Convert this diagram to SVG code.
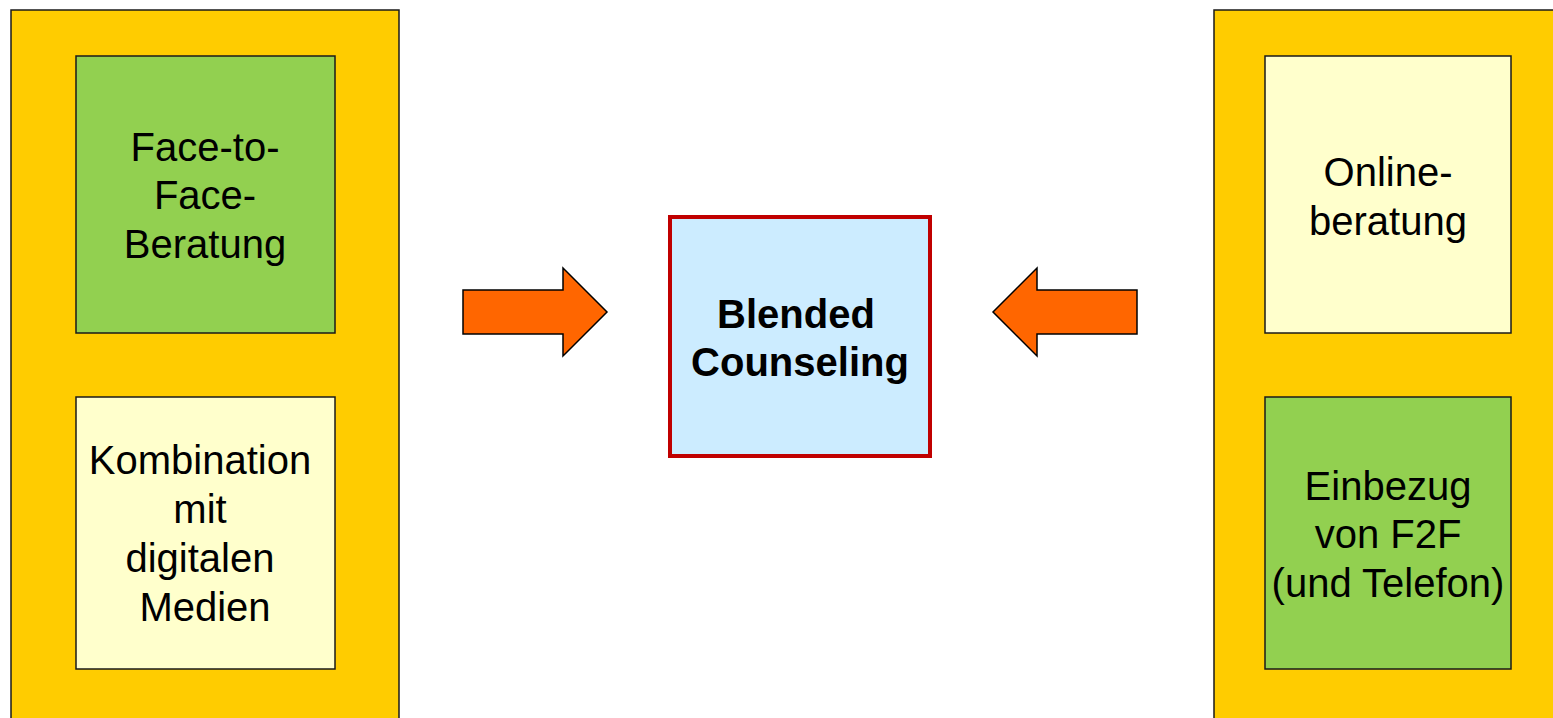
<svg xmlns="http://www.w3.org/2000/svg" width="1553" height="718" viewBox="0 0 1553 718">
<style>
.outer{fill:#FFCC00;stroke:#1a1a1a;stroke-width:1.5}
.g{fill:#92D050;stroke:#1a1a1a;stroke-width:1.5}
.y{fill:#FFFFCC;stroke:#1a1a1a;stroke-width:1.5}
.c{fill:#CCECFF;stroke:#C00000;stroke-width:4}
.arr{fill:#FF6600;stroke:#000;stroke-width:1.5;stroke-linejoin:miter}
text{font-family:"Liberation Sans",Arial,sans-serif;font-size:40px;fill:#000;text-anchor:middle}
.b{font-weight:bold}
</style>
<rect width="1553" height="718" fill="#fff"/>
<g id="left-panel">
<rect class="outer" x="11" y="10" width="388" height="720"/>
</g>
<g id="right-panel">
<rect class="outer" x="1214" y="10" width="350" height="720"/>
</g>
<g id="face-to-face">
<rect class="g" x="76" y="56" width="259" height="277"/>
<text x="205" y="161">Face-to-</text>
<text x="205" y="209">Face-</text>
<text x="205" y="258">Beratung</text>
</g>
<g id="kombination">
<rect class="y" x="76" y="397" width="259" height="272"/>
<text x="200" y="474">Kombination</text>
<text x="200" y="523">mit</text>
<text x="200" y="572">digitalen</text>
<text x="205" y="621">Medien</text>
</g>
<g id="blended">
<rect class="c" x="670" y="217" width="260" height="239"/>
<text class="b" x="796" y="328">Blended</text>
<text class="b" x="800" y="376">Counseling</text>
</g>
<g id="online">
<rect class="y" x="1265" y="56" width="246" height="277"/>
<text x="1388" y="186">Online-</text>
<text x="1388" y="235">beratung</text>
</g>
<g id="einbezug">
<rect class="g" x="1265" y="397" width="246" height="272"/>
<text x="1388" y="500">Einbezug</text>
<text x="1388" y="548">von F2F</text>
<text x="1388" y="597">(und Telefon)</text>
</g>
<g id="connectors">
<polygon class="arr" points="463,290 563,290 563,268 607,312 563,356 563,334 463,334"/>
<polygon class="arr" points="1137,290 1037,290 1037,268 993,312 1037,356 1037,334 1137,334"/>
</g>
</svg>
